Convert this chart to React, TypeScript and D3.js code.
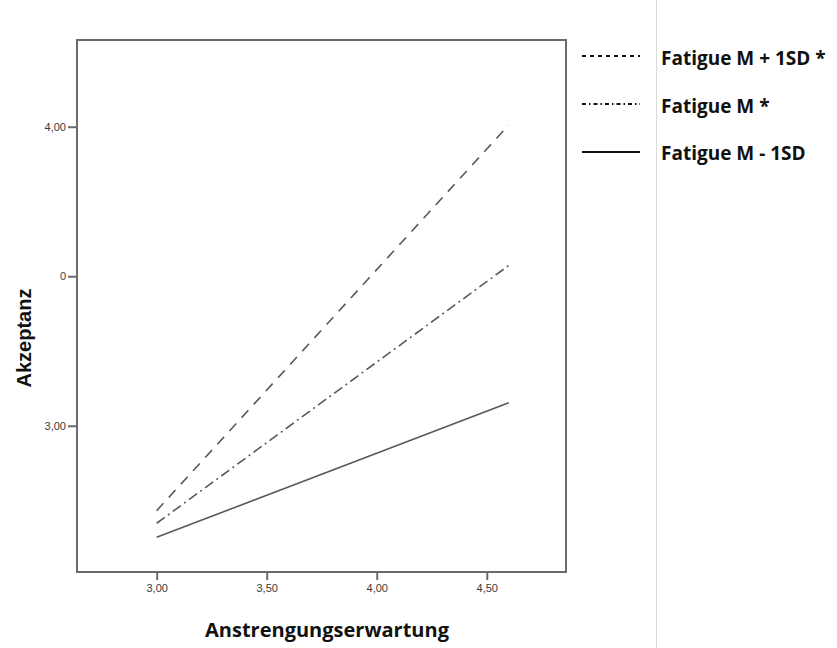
import React, { useEffect, useRef } from 'react';
import * as d3 from 'd3';

// x values where the simple slopes are evaluated
const xPoints = [3.0, 4.6];

// predicted Akzeptanz for each fatigue level
const highFatigue = [2.716, 4.006];
const meanFatigue = [2.674, 3.536];
const lowFatigue = [2.627, 3.077];

const seriesNames = ['Fatigue M + 1SD *', 'Fatigue M *', 'Fatigue M - 1SD'];

const xTickValues = [3.0, 3.5, 4.0, 4.5];
const xTickLabels = ['3,00', '3,50', '4,00', '4,50'];
const yTickValues = [3.0, 3.5, 4.0];
const yTickLabels = ['3,00', '0', '4,00'];

const App = () => {
  const svgRef = useRef<SVGSVGElement>(null);

  useEffect(() => {
    const svg = d3.select(svgRef.current);
    svg.selectAll('*').remove();

    const frame = { left: 77, top: 40, right: 566, bottom: 572 };

    const x = d3.scaleLinear().domain([2.638, 4.86]).range([frame.left, frame.right]);
    const y = d3.scaleLinear().domain([2.511, 4.29]).range([frame.bottom, frame.top]);

    // divider to the legend
    svg.append('line')
      .attr('x1', 656.5).attr('x2', 656.5)
      .attr('y1', 0).attr('y2', 648)
      .attr('stroke', '#d9d9d9').attr('stroke-width', 1);

    // plot frame
    svg.append('rect')
      .attr('x', frame.left).attr('y', frame.top)
      .attr('width', frame.right - frame.left)
      .attr('height', frame.bottom - frame.top)
      .attr('fill', 'none').attr('stroke', '#6b6b6b').attr('stroke-width', 2);

    const xAxis = d3.axisBottom(x)
      .tickValues(xTickValues)
      .tickFormat((d, i) => xTickLabels[i])
      .tickSizeOuter(0).tickSizeInner(8).tickPadding(4);

    const gx = svg.append('g')
      .attr('transform', `translate(0,${frame.bottom})`)
      .call(xAxis);
    gx.select('.domain').remove();

    const yAxis = d3.axisLeft(y)
      .tickValues(yTickValues)
      .tickFormat((d, i) => yTickLabels[i])
      .tickSizeOuter(0).tickSizeInner(9).tickPadding(2);

    const gy = svg.append('g')
      .attr('transform', `translate(${frame.left},0)`)
      .call(yAxis);
    gy.select('.domain').remove();

    svg.selectAll('.tick line').attr('stroke', '#6b6b6b').attr('stroke-width', 2);
    svg.selectAll('.tick text')
      .attr('fill', '#3a3a3a')
      .style('font-family', '"Liberation Sans", Arial, sans-serif')
      .style('font-size', '11px');

    const line = d3.line<number>()
      .x((d, i) => x(xPoints[i]))
      .y(d => y(d));

    const series = [
      { values: highFatigue, dash: '10,8' },
      { values: meanFatigue, dash: '10,4,2,4' },
      { values: lowFatigue, dash: null },
    ];

    series.forEach(s => {
      svg.append('path')
        .datum(s.values)
        .attr('fill', 'none')
        .attr('stroke', '#595959')
        .attr('stroke-width', 1.6)
        .attr('stroke-dasharray', s.dash)
        .attr('d', line);
    });

    // legend
    const legendDash = ['4,4', '4,3,1.5,3', null];
    const legendLineY = [56, 104, 152];
    const legendTextY = [65, 113, 160];
    seriesNames.forEach((name, i) => {
      svg.append('line')
        .attr('x1', 582).attr('x2', 640)
        .attr('y1', legendLineY[i]).attr('y2', legendLineY[i])
        .attr('stroke', '#111').attr('stroke-width', 2)
        .attr('stroke-dasharray', legendDash[i]);
      svg.append('text')
        .attr('x', 661).attr('y', legendTextY[i])
        .attr('fill', '#111')
        .style('font-family', '"Open Sans", "Noto Sans", sans-serif')
        .style('font-weight', 'bold')
        .style('font-size', '19px')
        .text(name);
    });

    // axis titles
    svg.append('text')
      .attr('x', 327)
      .attr('y', 637)
      .attr('text-anchor', 'middle')
      .attr('fill', '#111')
      .style('font-family', '"Open Sans", "Noto Sans", sans-serif')
      .style('font-weight', 'bold')
      .style('font-size', '20px')
      .text('Anstrengungserwartung');

    svg.append('text')
      .attr('transform', 'translate(31,338) rotate(-90)')
      .attr('text-anchor', 'middle')
      .attr('fill', '#111')
      .style('font-family', '"Liberation Sans", Arial, sans-serif')
      .style('font-weight', 'bold')
      .style('font-size', '20px')
      .text('Akzeptanz');
  }, []);

  return (
    <svg
      ref={svgRef}
      width={837}
      height={648}
      style={{ position: 'absolute', left: 0, top: 0, background: '#fff' }}
    />
  );
};

export default App;
